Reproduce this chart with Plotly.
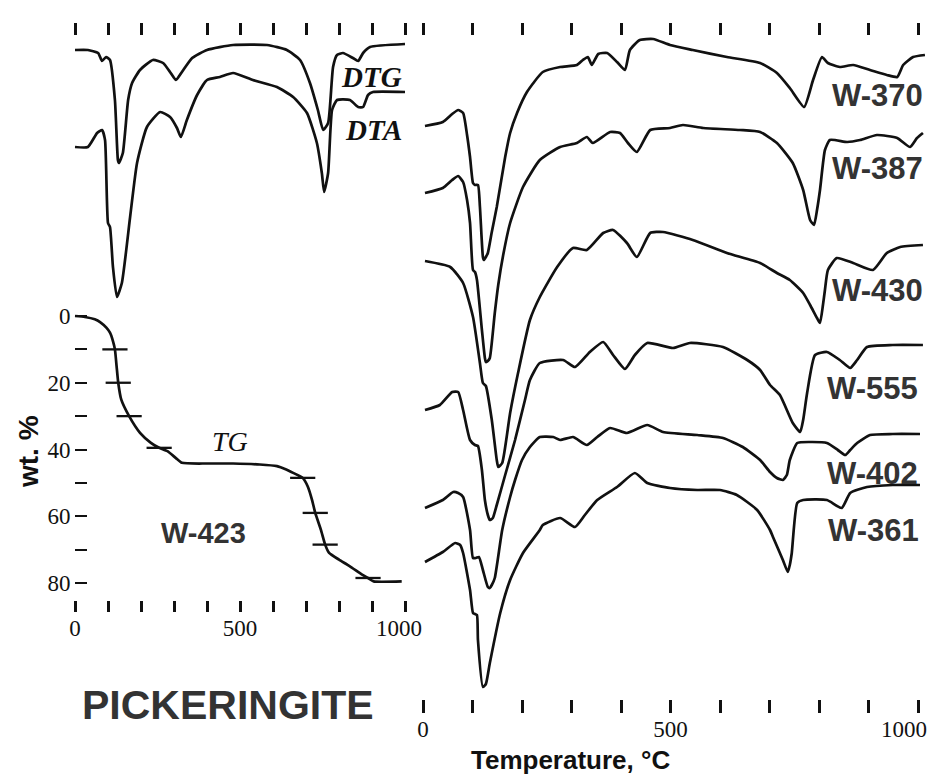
import plotly.graph_objects as go

# ---------------- data ----------------
# temperature axis (deg C)
temp_ticks = [0, 100, 200, 300, 400, 500, 600, 700, 800, 900, 1000]
temp_label_vals = [0, 500]
end_label_val = [1000]
end_label = ["1000"]

# TG of W-423, weight loss in wt. %
tg_temp = [0, 30, 60, 76, 95, 106, 115, 121, 126, 131, 140, 164, 197, 230, 255, 280,
           305, 324, 400, 479, 560, 612, 640, 661, 690, 705, 718, 728, 745, 758, 770,
           800, 833, 870, 888, 905, 990]
tg_loss = [0, 0.3, 1, 1.8, 3.5, 5, 7.5, 10, 15, 20, 25, 30, 35, 38, 39.5, 40.5,
           42.5, 44, 44.2, 44.2, 44.5, 45, 46, 47, 48.5, 51, 55, 59, 64, 68.5, 71,
           73, 75, 77.5, 78.5, 79.5, 79.5]
tg_mark_temp = [121, 131, 164, 255, 690, 728, 758, 888]
tg_mark_loss = [10, 20, 30, 39.5, 48.5, 59, 68.5, 78.5]
wt_ticks = [0, 10, 20, 30, 40, 50, 60, 70, 80]
wt_labels = ["0", "", "20", "", "40", "", "60", "", "80"]

# W-423 DTG and DTA (arbitrary units, relative to starting baseline)
dtg_temp = [0, 39, 70, 82, 94, 106, 121, 130, 133, 145, 161, 173, 197, 236, 267, 288,
            306, 324, 355, 400, 479, 582, 642, 682, 712, 736, 752, 767, 782, 794, 812,
            842, 858, 873, 894, 1000]
dtg_sig = [0, 0, -3, -11, -7, -10, -50, -110, -113, -103, -50, -33, -20, -10, -13, -22,
           -30, -22, -8, 0, 5, 5, 0, -10, -33, -60, -80, -73, -17, -5, -3,
           -8, -11, -3, 3, 6]
dta_temp = [0, 39, 67, 82, 91, 100, 106, 115, 127, 142, 167, 188, 218, 258, 288, 309,
            321, 339, 370, 400, 439, 479, 539, 612, 661, 703, 733, 748, 755, 767, 779,
            794, 833, 858, 873, 888, 903, 1000]
dta_sig = [0, 0, 14, 17, 7, -76, -80, -120, -150, -136, -70, -16, 20, 35, 30, 19,
           10, 27, 52, 67, 70, 74, 67, 60, 50, 34, 4, -26, -45, -26, 37,
           47, 47, 40, 40, 52, 55, 55]

# DTA curves of the other samples (arbitrary units)
w370_temp = [4, 40, 59, 71, 81, 89, 95, 101, 105, 111, 115, 121, 123, 127, 131, 139, 149,
             166, 176, 190, 210, 242, 277, 311, 323, 333, 341, 354, 372, 392, 408, 418,
             438, 465, 499, 545, 614, 681, 715, 741, 770, 788, 806, 818, 842, 869, 903,
             937, 958, 970, 990, 1014]
w370_sig = [0, 4, 12, 16, 13, -9, -31, -57, -59, -59, -81, -131, -134, -131, -127, -106, -81,
            -31, -7, 13, 34, 54, 59, 61, 66, 69, 61, 72, 73, 64, 56, 76,
            86, 87, 81, 76, 69, 63, 53, 38, 19, 46, 69, 63, 59, 61, 56,
            51, 49, 61, 69, 71]

w387_temp = [4, 40, 59, 71, 81, 89, 95, 101, 105, 109, 119, 125, 127, 131, 135, 145, 152,
             162, 176, 202, 236, 277, 311, 331, 343, 378, 398, 414, 432, 459, 499, 525,
             566, 640, 681, 715, 747, 768, 782, 790, 796, 802, 812, 822, 857, 883, 917,
             958, 984, 998, 1010]
w387_sig = [0, 5, 13, 17, 11, -7, -30, -77, -79, -87, -137, -165, -169, -168, -165, -120, -92,
            -62, -30, 6, 33, 46, 50, 56, 50, 61, 60, 50, 41, 63, 65, 68,
            65, 63, 61, 50, 30, 3, -27, -32, -17, 3, 43, 53, 51, 53, 58,
            55, 46, 55, 60]

w430_temp = [4, 55, 81, 101, 115, 121, 127, 139, 149, 152, 160, 176, 192, 216, 236, 271,
             303, 331, 364, 384, 412, 432, 459, 485, 545, 614, 681, 715, 741, 768, 782,
             796, 802, 808, 812, 818, 836, 869, 909, 937, 964, 1010]
w430_sig = [-1, -7, -23, -57, -103, -123, -126, -160, -200, -207, -203, -153, -113, -60, -37, -7,
            12, 10, 27, 30, 17, 3, 27, 28, 20, 7, -3, -13, -20, -33, -45,
            -58, -63, -45, -30, -10, 2, -3, -10, 7, 13, 15]

w555_temp = [4, 34, 59, 71, 81, 95, 105, 111, 119, 125, 131, 135, 141, 149, 166, 186,
             206, 216, 236, 283, 307, 337, 364, 384, 408, 428, 453, 505, 539, 606, 655,
             681, 701, 721, 747, 762, 768, 776, 792, 816, 842, 863, 877, 897, 949, 1010]
w555_sig = [0, 5, 18, 18, 0, -30, -35, -36, -60, -90, -105, -110, -108, -95, -65, -30,
            10, 30, 47, 50, 43, 58, 68, 55, 41, 55, 67, 62, 67, 63, 50,
            40, 25, 15, -13, -22, -10, 17, 55, 58, 50, 42, 50, 63, 65, 65]

w402_temp = [4, 40, 61, 71, 81, 95, 101, 107, 113, 121, 131, 135, 139, 145, 160, 176,
             186, 200, 216, 236, 263, 277, 303, 331, 352, 378, 412, 453, 485, 554, 606,
             646, 681, 701, 715, 727, 735, 741, 756, 782, 816, 838, 853, 863, 877, 903,
             949, 1004]
w402_sig = [0, 8, 16, 15, 11, -22, -50, -50, -49, -62, -79, -80, -77, -70, -22, 11,
            28, 48, 61, 71, 71, 68, 71, 63, 71, 80, 75, 83, 76, 73, 70,
            61, 48, 36, 30, 28, 33, 48, 65, 66, 65, 58, 53, 58, 65, 73,
            74, 74]

w361_temp = [4, 40, 65, 75, 81, 95, 101, 105, 109, 111, 121, 127, 135, 156, 176, 202,
             236, 242, 277, 307, 327, 352, 392, 428, 453, 499, 554, 600, 634, 675, 701,
             707, 727, 737, 741, 745, 756, 768, 816, 846, 863, 897, 949, 1004]
w361_sig = [0, 10, 19, 17, 9, -28, -51, -52, -53, -78, -125, -122, -101, -51, -18, 9,
            32, 37, 44, 35, 47, 62, 75, 89, 79, 74, 72, 72, 67, 52, 32,
            25, 2, -10, -3, 9, 59, 62, 62, 54, 69, 75, 77, 77]

# vertical stacking of the curves (signal units)
stack = {"DTG": 727, "DTA": 630, "W-370": 651, "W-387": 584, "W-430": 517,
         "W-555": 367, "W-402": 269, "W-361": 215}

# ---------------- figure ----------------
W, H = 937, 777
INK = "#111111"
GREY = "#333333"
LW = 2.7


def px(x):
    return x / W


def py(y):
    return 1 - y / H


fig = go.Figure()


def curve(t, s, name, xa):
    fig.add_trace(go.Scatter(
        x=t, y=[v + stack[name] for v in s], xaxis=xa, yaxis="y2", mode="lines",
        line=dict(color=INK, width=LW, shape="spline", smoothing=0.5),
        hoverinfo="skip", showlegend=False))


curve(dtg_temp, dtg_sig, "DTG", "x2")
curve(dta_temp, dta_sig, "DTA", "x2")

fig.add_trace(go.Scatter(
    x=tg_temp, y=tg_loss, xaxis="x", yaxis="y", mode="lines",
    line=dict(color=INK, width=LW, shape="spline", smoothing=0.5),
    hoverinfo="skip", showlegend=False))
fig.add_trace(go.Scatter(
    x=tg_mark_temp, y=tg_mark_loss, xaxis="x", yaxis="y", mode="markers",
    marker=dict(symbol="line-ew", size=18, line=dict(color=INK, width=2.3)),
    hoverinfo="skip", showlegend=False))

curve(w370_temp, w370_sig, "W-370", "x4")
curve(w387_temp, w387_sig, "W-387", "x4")
curve(w430_temp, w430_sig, "W-430", "x4")
curve(w555_temp, w555_sig, "W-555", "x4")
curve(w402_temp, w402_sig, "W-402", "x4")
curve(w361_temp, w361_sig, "W-361", "x4")

# axes without a curve of their own still need a trace to be drawn
for xa in ["x3", "x5", "x6"]:
    fig.add_trace(go.Scatter(x=[None], y=[None], xaxis=xa, yaxis="y2",
                             showlegend=False, hoverinfo="skip"))

serif = "Liberation Serif, Times New Roman, serif"
sans = "Liberation Sans, Arial, sans-serif"

# left panel: 0 degC at 75 px, 1000 degC at 405 px (0.33 px per degC)
left_dom = [px(68), px(412)]
left_rng = [-(75 - 68) / 0.33, (412 - 75) / 0.33]
# right panel: 0 degC at 423 px, 1000 degC at 918 px (0.495 px per degC)
right_dom = [px(416), px(930)]
right_rng = [-(423 - 416) / 0.495, (930 - 423) / 0.495]

base = dict(showline=False, showgrid=False, zeroline=False, automargin=False,
            anchor="free", fixedrange=True)
ticks = dict(tickvals=temp_ticks, ticks="inside", tickwidth=2.8, tickcolor=INK)
bottom_text = [str(t) if t in temp_label_vals else "" for t in temp_ticks]
num_font = dict(family=serif, size=23, color=INK)
labels = dict(ticks="", tickfont=num_font, ticklabeloverflow="allow")

fig.update_layout(
    width=W, height=H, margin=dict(l=0, r=0, t=0, b=0, autoexpand=False),
    paper_bgcolor="white", plot_bgcolor="rgba(0,0,0,0)", showlegend=False,
    # bottom axes: ticks plus the 0 / 500 labels
    xaxis=dict(domain=left_dom, range=left_rng, position=py(612), ticklen=11,
               ticktext=bottom_text, tickfont=num_font, **ticks, **base),
    xaxis3=dict(domain=right_dom, range=right_rng, position=py(713), ticklen=13,
                ticktext=bottom_text, tickfont=num_font, **ticks, **base),
    # the "1000" labels sit a little left of their tick in the original
    xaxis5=dict(domain=left_dom, range=left_rng, position=py(612), tickvals=end_label_val,
                ticktext=end_label, ticklabelshift=-6, **labels, **base),
    xaxis6=dict(domain=right_dom, range=right_rng, position=py(713), tickvals=end_label_val,
                ticktext=end_label, ticklabelshift=-14, **labels, **base),
    # top tick rows
    xaxis2=dict(domain=left_dom, range=left_rng, side="top", position=py(22), ticklen=12,
                showticklabels=False, **ticks, **base),
    xaxis4=dict(domain=right_dom, range=right_rng, side="top", position=py(22), ticklen=12,
                showticklabels=False, **ticks, **base),
    # TG axis: 0 wt.% at 316 px, 80 wt.% at 583 px
    yaxis=dict(domain=[0, 1], range=[(H - 316) / 3.3375, -316 / 3.3375], anchor="free",
               position=px(87), side="left", tickvals=wt_ticks, ticktext=wt_labels,
               ticks="outside", ticklen=12, tickwidth=2.3, tickcolor=INK,
               showline=False, showgrid=False, zeroline=False, automargin=False,
               fixedrange=True, tickfont=num_font),
    yaxis2=dict(domain=[0, 1], range=[0, H], anchor="free", position=0, visible=False,
                automargin=False, fixedrange=True),
)

notes = [
    ("<b><i>DTG</i></b>", 371, 77, serif, 29, INK),
    ("<b><i>DTA</i></b>", 373, 130, serif, 29, INK),
    ("<i>TG</i>", 230, 441, serif, 28, INK),
    ("<b>W-423</b>", 203, 533, sans, 29, GREY),
    ("<b>W-370</b>", 877, 96, sans, 31, GREY),
    ("<b>W-387</b>", 877, 168, sans, 31, GREY),
    ("<b>W-430</b>", 877, 291, sans, 31, GREY),
    ("<b>W-555</b>", 872, 389, sans, 31, GREY),
    ("<b>W-402</b>", 872, 473, sans, 31, GREY),
    ("<b>W-361</b>", 873, 530, sans, 31, GREY),
    ("<b>PICKERINGITE</b>", 228, 705, sans, 41, GREY),
    ("<b>Temperature, °C</b>", 570, 760, sans, 26, INK),
]
for text, x, y, fam, size, col in notes:
    fig.add_annotation(text=text, x=px(x), y=py(y), xref="paper", yref="paper",
                       showarrow=False, xanchor="center", yanchor="middle",
                       font=dict(family=fam, size=size, color=col))

fig.add_annotation(text="<b>wt. %</b>", x=px(28), y=py(452), xref="paper", yref="paper",
                   showarrow=False, textangle=-90, xanchor="center", yanchor="middle",
                   font=dict(family=sans, size=28, color=INK))

fig.write_html("out.html", config={"displayModeBar": False},
               post_script="document.body.style.margin = '0px';")
